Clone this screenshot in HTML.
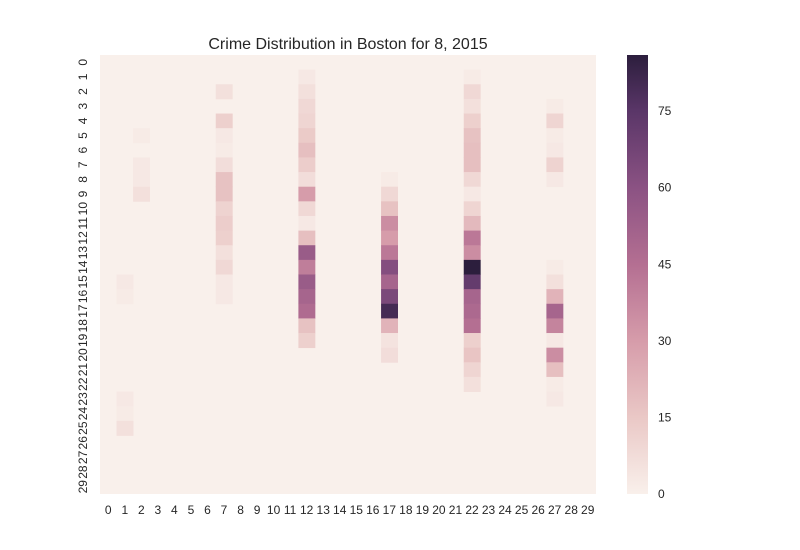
<!DOCTYPE html>
<html><head><meta charset="utf-8"><style>
body{margin:0;background:#fff;}
svg{display:block;font-family:"Liberation Sans",Arial,sans-serif;}
</style></head><body>
<svg id="chart" width="800" height="550">
<text x="348" y="49" text-anchor="middle" font-size="16" fill="#262626">Crime Distribution in Boston for 8, 2015</text>
<g id="cells"></g>
<g id="xticks"></g>
<g id="yticks"></g>
<defs><linearGradient id="cbg" x1="0" y1="1" x2="0" y2="0"></linearGradient></defs>
<rect x="627" y="55" width="21" height="439" fill="url(#cbg)"/>
<g id="cbticks"></g>
</svg>
<script>
const rows = Array.from({length:30},(_,i)=>i);
const cols = Array.from({length:30},(_,i)=>i);
const colorbarTicks = [0,15,30,45,60,75];
const vmax = 86;
// sparse data: column -> {row: value}
const col1 = {15:3,16:2,23:3,24:2,25:6};
const col2 = {5:2,7:3,8:3,9:6};
const col7 = {2:6,4:12,5:3,6:2,7:7,8:17,9:17,10:11,11:13,12:12,13:6,14:9,15:3,16:3};
const col12 = {1:3,2:6,3:9,4:10,5:14,6:18,7:13,8:7,9:30,10:9,11:3,12:18,13:55,14:40,15:55,16:50,17:47,18:17,19:12};
const col17 = {8:2,9:9,10:17,11:35,12:30,13:42,14:62,15:50,16:65,17:80,18:22,19:5,20:7};
const col22 = {1:2,2:9,3:6,4:12,5:17,6:18,7:18,8:9,9:3,10:10,11:20,12:42,13:35,14:86,15:72,16:50,17:48,18:45,19:12,20:16,21:10,22:6};
const col27 = {3:2,4:10,5:2,6:3,7:11,8:3,14:2,15:6,16:22,17:50,18:38,19:3,20:35,21:18,22:2,23:3};
const columnData = {1:col1,2:col2,7:col7,12:col12,17:col17,22:col22,27:col27};

const X0=100,X1=596,Y0=55,Y1=494;
const cw=(X1-X0)/cols.length, ch=(Y1-Y0)/rows.length;
const xScale=c=>X0+c*cw, yScale=r=>Y0+r*ch;
const stops=[[0,[249,240,235]],[15,[234,200,198]],[30,[214,156,170]],[45,[180,111,146]],[60,[139,82,131]],[75,[90,54,104]],[86,[44,30,61]]];
function color(v){
  for(let i=1;i<stops.length;i++){
    if(v<=stops[i][0]||i==stops.length-1){
      const a=stops[i-1],b=stops[i];const t=Math.max(0,Math.min(1,(v-a[0])/(b[0]-a[0])));
      const c=a[1].map((x,k)=>Math.round(x+(b[1][k]-x)*t));return `rgb(${c})`;
    }
  }
}
const NS="http://www.w3.org/2000/svg";
const cells=document.getElementById('cells');
const bg=document.createElementNS(NS,'rect');
bg.setAttribute('x',X0);bg.setAttribute('y',Y0);bg.setAttribute('width',X1-X0);bg.setAttribute('height',Y1-Y0);bg.setAttribute('fill',color(0));


cells.appendChild(bg);
cols.forEach(c=>{
  const d=columnData[c]||{};
  rows.forEach(r=>{
    const v=d[r]||0; if(!v) return;
    const el=document.createElementNS(NS,'rect');
    el.setAttribute('x',xScale(c));el.setAttribute('y',yScale(r));
    el.setAttribute('width',cw+0.4);el.setAttribute('height',ch+0.4);
    el.setAttribute('fill',color(v));
    
    
    cells.appendChild(el);
  });
});
const xt=document.getElementById('xticks');
cols.forEach(c=>{
  const t=document.createElementNS(NS,'text');
  t.setAttribute('x',xScale(c)+cw/2);t.setAttribute('y',514);
  t.setAttribute('text-anchor','middle');t.setAttribute('font-size','12');t.setAttribute('fill','#262626');
  t.textContent=c;
  
  
  xt.appendChild(t);
});
const yt=document.getElementById('yticks');
rows.forEach(r=>{
  const t=document.createElementNS(NS,'text');
  const cx=87, cy=yScale(r)+ch/2;
  t.setAttribute('x',cx);t.setAttribute('y',cy);
  t.setAttribute('transform',`rotate(-90 ${cx} ${cy})`);
  t.setAttribute('text-anchor','middle');t.setAttribute('font-size','12');t.setAttribute('fill','#262626');
  t.textContent=r;
  
  
  yt.appendChild(t);
});
const g=document.getElementById('cbg');
stops.forEach(s=>{const st=document.createElementNS(NS,'stop');st.setAttribute('offset',s[0]/vmax);st.setAttribute('stop-color',`rgb(${s[1]})`);g.appendChild(st);});
const cbt=document.getElementById('cbticks');
colorbarTicks.forEach(v=>{
  const t=document.createElementNS(NS,'text');
  t.setAttribute('x',658);t.setAttribute('y',Y1-(v/vmax)*(Y1-Y0)+4);
  t.setAttribute('font-size','12');t.setAttribute('fill','#262626');
  t.textContent=v;
  
  
  cbt.appendChild(t);
});
</script>
</body></html>
